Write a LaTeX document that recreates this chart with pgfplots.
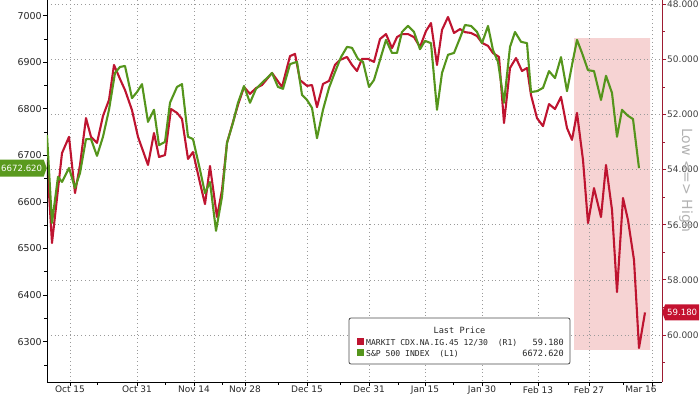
\documentclass[border=0pt]{standalone}
\usepackage{pgfplots}
\pgfplotsset{compat=1.18}
\usepackage{fontspec}
\setmainfont{DejaVu Sans}
\newfontfamily\monofont{DejaVu Sans Mono}
\usetikzlibrary{shapes.symbols}
\definecolor{spgreen}{HTML}{55951C}
\definecolor{cdxred}{HTML}{BE1430}
\definecolor{axisred}{HTML}{9E1B32}
\definecolor{tagred}{HTML}{C41230}
\definecolor{taggreen}{HTML}{5A9A1E}
\definecolor{shade}{HTML}{F6D3D3}
\definecolor{gridc}{HTML}{9A9A9A}

\pgfplotstableread{
x y
47 6744
52 6555
58 6654
62 6643
69 6673
75 6630
80 6662
86 6735
91 6735
97 6699
103 6740
109 6798
115 6877
120 6890
125 6892
132 6823
137 6836
142 6853
148 6772
154 6798
159 6722
165 6729
170 6813
177 6847
182 6853
188 6740
193 6735
200 6669
205 6619
210 6643
216 6538
222 6611
227 6727
233 6770
238 6813
244 6849
250 6813
256 6843
262 6856
267 6866
272 6877
278 6847
283 6843
290 6896
297 6901
302 6830
307 6819
312 6802
317 6737
323 6798
329 6845
335 6879
341 6911
347 6933
352 6931
358 6907
363 6901
369 6847
374 6862
380 6905
386 6948
392 6920
397 6920
402 6965
408 6978
414 6965
420 6928
425 6946
431 6941
437 6798
442 6877
448 6916
454 6920
460 6952
465 6980
471 6978
477 6965
482 6941
488 6978
493 6926
498 6901
504 6813
510 6933
515 6965
521 6944
527 6941
531 6836
537 6838
543 6845
549 6881
555 6866
561 6911
567 6838
572 6894
577 6948
582 6920
588 6883
594 6881
601 6819
606 6871
612 6834
617 6740
622 6798
628 6785
633 6778
639 6672.62
}\spx

\pgfplotstableread{
x y
47 53.65
52 56.66
62 53.40
69 52.81
75 54.85
80 53.83
86 52.13
91 52.81
97 53.03
103 52.05
109 51.47
114 50.20
120 50.71
125 51.11
132 51.84
138 52.81
148 53.83
154 52.67
159 53.54
165 53.47
171 51.80
177 51.94
182 52.16
188 53.61
193 53.36
200 54.48
205 55.25
210 53.87
217 55.72
222 54.74
227 53.03
233 52.27
238 51.65
244 51.00
250 51.25
256 51.04
262 50.93
267 50.71
272 50.49
282 51.00
290 49.88
295 49.80
300 50.75
307 50.96
312 50.93
317 51.73
323 50.89
329 50.78
335 50.20
340 50.02
347 49.91
352 50.20
357 50.42
362 49.98
368 49.98
374 50.09
380 49.26
386 49.08
392 49.59
397 49.19
402 49.08
408 49.08
414 49.19
420 49.55
426 48.97
431 48.68
437 50.20
442 48.93
448 48.46
454 49.04
460 48.90
465 49.01
471 49.04
477 49.15
482 49.40
488 49.51
493 49.77
499 49.91
504 52.31
510 50.31
516 49.95
522 50.42
527 50.31
531 51.29
537 52.13
543 52.42
549 51.62
555 51.80
561 51.36
567 52.49
572 52.92
577 51.94
583 53.65
588 55.94
594 54.67
601 55.72
606 53.83
612 55.46
617 58.44
623 55.03
628 55.83
634 57.28
639 60.47
645 59.18
}\cdx

\pgfplotstableread{
x y
574 49.223
650 49.223
650 60.543
574 60.543
574 49.223
}\shaded

\begin{document}
\begin{tikzpicture}
\useasboundingbox (-47pt,-12pt) rectangle (653pt,382pt);
% shaded area (right scale)
\begin{axis}[
  scale only axis, width=615pt, height=382pt,
  xmin=47, xmax=662,
  ymin=47.844, ymax=61.705, y dir=reverse,
  hide axis,
]
\addplot[draw=none, fill=shade] table[x=x,y=y] {\shaded};
\end{axis}
% right axis (CDX, inverted) with grid
\begin{axis}[
  scale only axis, width=615pt, height=382pt,
  xmin=47, xmax=662,
  ymin=47.844, ymax=61.705, y dir=reverse,
  axis y line*=right, axis x line*=bottom,
  x axis line style={draw=none},
  y axis line style={draw=axisred, line width=0.9pt},
  xtick={70,137,194,245,307,369,425,482,538,589,652},
  xticklabels={},
  xtick style={draw=none},
  ytick={48,50,...,60},
  minor ytick={49,51,...,61},
  ytick style={draw=axisred, line width=0.9pt},
  tick align=outside,
  major tick length=4pt, minor tick length=2.5pt,
  grid=major,
  major grid style={draw=gridc, line width=0.7pt, dash pattern=on 0.8pt off 3pt},
  yticklabel style={font=\fontsize{9}{10}\selectfont, text=black!75, inner sep=1pt,
    /pgf/number format/fixed, /pgf/number format/fixed zerofill, /pgf/number format/precision=3},
  /pgf/number format/assume math mode=true,
]
\addplot[cdxred, line width=2.1pt, line join=round] table[x=x,y=y] {\cdx};
\coordinate (rtag) at (axis cs:662,59.18);
\end{axis}
% left axis (S&P 500)
\begin{axis}[
  scale only axis, width=615pt, height=382pt,
  xmin=47, xmax=662, ymin=6213.4, ymax=7033.7,
  axis y line*=left, axis x line*=bottom,
  axis line style={line width=0.9pt, black},
  xtick={70,137,194,245,307,369,425,482,538,589,652},
  xticklabels={Oct 15,Oct 31,Nov 14,Nov 28,Dec 15,Dec 31,Jan 15,Jan 30,Feb 13,Feb 27,{\makebox[0pt]{\hspace{-22pt}Mar 16}}},
  minor xtick={97,165,222,278,340,398,453,510,568,623},
  ytick={6300,6400,...,7000},
  minor ytick={6250,6350,...,6950},
  tick align=outside, major tick length=4pt, minor tick length=2.5pt,
  tick style={black, line width=0.9pt},
  xticklabel style={font=\fontsize{9}{10}\selectfont, text=black!85, inner sep=0pt},
  yticklabel style={font=\fontsize{9.5}{10}\selectfont, text=black!85, inner sep=1pt, /pgf/number format/1000 sep={}},
  /pgf/number format/assume math mode=true,
]
\addplot[spgreen, line width=2.1pt, line join=round] table[x=x,y=y] {\spx};
\coordinate (gtag) at (axis cs:47,6672.62);
\end{axis}
% value tags
\node[signal, signal to=east, signal pointer angle=140, fill=taggreen, text=white,
  font=\fontsize{8.6}{9}\selectfont, inner xsep=1.5pt, inner ysep=0pt, minimum height=17pt, anchor=east] at (gtag) {6672.620};
\node[signal, signal to=west, signal pointer angle=140, fill=tagred, text=white,
  font=\fontsize{8.6}{9}\selectfont, inner xsep=2pt, inner ysep=0pt, minimum height=16pt, anchor=west] at (rtag) {59.180};
% right axis description
\node[rotate=-90, text=black!30, font=\fontsize{14}{16}\selectfont] at (639pt,202pt) {Low <=> High};
% legend
\draw[black!70, line width=0.8pt, rounded corners=2pt, fill=white] (302pt,18pt) rectangle (523pt,64pt);
\node[anchor=base, inner sep=0pt, font=\monofont\fontsize{8.6}{9}\selectfont, text=black!85] at (412.5pt,49pt) {Last Price};
\node[anchor=base west, inner sep=0pt, font=\monofont\fontsize{8.1}{9}\selectfont, text=black!85] at (310pt,37pt) {\textcolor{cdxred}{\rule{7pt}{7pt}}\hspace{2pt}MARKIT CDX.NA.IG.45 12/30~~(R1)};
\node[anchor=base east, inner sep=0pt, font=\monofont\fontsize{8.6}{9}\selectfont, text=black!85] at (517pt,37pt) {59.180};
\node[anchor=base west, inner sep=0pt, font=\monofont\fontsize{8.1}{9}\selectfont, text=black!85] at (310pt,26pt) {\textcolor{spgreen}{\rule{7pt}{7pt}}\hspace{2pt}S\&P 500 INDEX~~(L1)};
\node[anchor=base east, inner sep=0pt, font=\monofont\fontsize{8.6}{9}\selectfont, text=black!85] at (517pt,26pt) {6672.620};
\end{tikzpicture}
\end{document}
